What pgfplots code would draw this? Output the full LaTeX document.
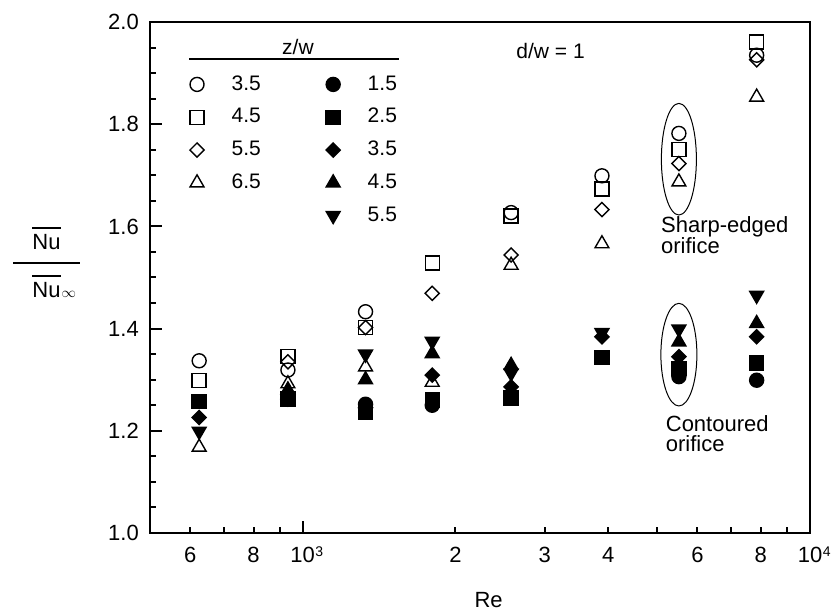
\documentclass[border=0pt]{standalone}
\usepackage{pgfplots}
\pgfplotsset{compat=1.18}
\usepackage{fontspec}
\setmainfont{Liberation Sans}

% marker styles: open symbols = sharp-edged orifice, filled = contoured orifice
\pgfplotsset{
  mk/.style={only marks, black, mark options={solid, line width=1.4pt}},
  o circ/.style={mk, mark=o, mark size=7pt},
  o sq/.style={mk, mark=square, mark size=7pt},
  o dia/.style={mk, mark=square, mark size=5pt, mark options={solid, line width=1.4pt, rotate=45}},
  o tri/.style={mk, mark=triangle, mark size=8pt},
  f circ/.style={mk, mark=*, mark size=7pt},
  f sq/.style={mk, mark=square*, mark size=7pt},
  f dia/.style={mk, mark=square*, mark size=5pt, mark options={solid, line width=1.4pt, rotate=45}},
  f tri/.style={mk, mark=triangle*, mark size=8pt},
  f dtri/.style={mk, mark=triangle*, mark size=8pt, mark options={solid, line width=1.4pt, rotate=180}},
}

% overlined "Nu"
\newcommand{\olNu}{\vbox{\hrule height 1.8pt\kern5.5pt\hbox{Nu}}}
\newcommand{\tickfont}{\fontsize{22}{26}\selectfont}
\newcommand{\annfont}{\fontsize{22}{26}\selectfont}
% power-of-ten tick label with a small raised exponent
\newcommand{\tenpow}[1]{10\rlap{\kern0.5pt\raisebox{6pt}{\fontsize{14}{14}\selectfont #1}}}

\begin{document}
\fontsize{21}{25}\selectfont
\begin{tikzpicture}
\useasboundingbox (-150pt,-78pt) rectangle (681pt,533pt);
\begin{axis}[
  at={(0pt,0pt)}, anchor=south west,
  scale only axis, width=660pt, height=511pt,
  xmode=log, xmin=500, xmax=10000, ymin=1, ymax=2,
  clip=false,
  axis line style={line width=2pt},
  tick style={line width=2pt, black},
  tick align=inside, tick pos=left,
  major tick length=12pt, minor tick length=6pt,
  xtick={1000,10000},
  xticklabels={\tenpow{3},\tenpow{4}},
  minor xtick={600,700,800,900,2000,3000,4000,5000,6000,7000,8000,9000},
  extra x ticks={600,800,2000,3000,4000,6000,8000},
  extra x tick labels={6,8,2,3,4,6,8},
  extra x tick style={major tick length=6pt},
  x tick label style={font=\tickfont, anchor=base, inner sep=0pt, yshift=-29pt},
  ytick={1,1.2,1.4,1.6,1.8,2},
  yticklabels={1.0,1.2,1.4,1.6,1.8,2.0},
  minor y tick num=3,
  y tick label style={font=\tickfont, anchor=base east, inner sep=0pt, xshift=-11pt, yshift=-7.8pt},
  legend columns=2,
  legend cell align=left,
  legend style={draw=none, fill=none, inner sep=0pt, outer sep=0pt,
    at={(axis description cs:0.0583,0.8953)}, anchor=north west,
    column sep=27.5pt, row sep=15pt, nodes={inner sep=0pt}},
]

% ---- sharp-edged orifice (open symbols)
\addplot[o circ, forget plot] coordinates {
  (625,1.337) (935,1.319) (1330,1.433) (2575,1.627)
  (3890,1.699) (5515,1.782) (7850,1.935)};
\addplot[o sq, forget plot] coordinates {
  (625,1.298) (935,1.345) (1330,1.402) (1800,1.528) (2575,1.620)
  (3890,1.673) (5515,1.750) (7850,1.961)};
\addplot[o dia, forget plot] coordinates {
  (935,1.335) (1330,1.402) (1800,1.469) (2575,1.544)
  (3890,1.633) (5515,1.723) (7850,1.926)};
\addplot[o tri, forget plot] coordinates {
  (625,1.168) (935,1.292) (1330,1.325) (1800,1.295) (2575,1.524)
  (3890,1.566) (5515,1.687) (7850,1.853)};

% ---- contoured orifice (filled symbols)
\addplot[f circ, forget plot] coordinates {
  (935,1.267) (1330,1.252) (1800,1.250) (5515,1.306) (7850,1.299)};
\addplot[f sq, forget plot] coordinates {
  (625,1.257) (935,1.262) (1330,1.236) (1800,1.260) (2575,1.264)
  (3890,1.344) (5515,1.322) (7850,1.333)};
\addplot[f dia, forget plot] coordinates {
  (625,1.226) (935,1.262) (1330,1.245) (1800,1.309) (2575,1.286)
  (3890,1.384) (5515,1.345) (7850,1.384)};
\addplot[f tri, forget plot] coordinates {
  (935,1.280) (1330,1.300) (1800,1.351) (2575,1.328)
  (5515,1.374) (7850,1.410)};
\addplot[f dtri, forget plot] coordinates {
  (625,1.199) (1330,1.350) (1800,1.375) (2575,1.313)
  (3890,1.392) (5515,1.399) (7850,1.465)};

% ---- legend (two columns, row by row)
\addlegendimage{o circ}\addlegendentry{\makebox[67pt][l]{3.5}}
\addlegendimage{f circ}\addlegendentry{\makebox[67pt][l]{1.5}}
\addlegendimage{o sq}\addlegendentry{\makebox[67pt][l]{4.5}}
\addlegendimage{f sq}\addlegendentry{\makebox[67pt][l]{2.5}}
\addlegendimage{o dia}\addlegendentry{\makebox[67pt][l]{5.5}}
\addlegendimage{f dia}\addlegendentry{\makebox[67pt][l]{3.5}}
\addlegendimage{o tri}\addlegendentry{\makebox[67pt][l]{6.5}}
\addlegendimage{f tri}\addlegendentry{\makebox[67pt][l]{4.5}}
\addlegendimage{empty legend}\addlegendentry{}
\addlegendimage{f dtri}\addlegendentry{\makebox[67pt][l]{5.5}}

% legend heading
\node[anchor=base, inner sep=0pt] at (axis description cs:0.2242,0.9368) {z/w};
\draw[line width=1.8pt] (axis description cs:0.0591,0.9276) -- (axis description cs:0.3773,0.9276);

% annotations
\node[anchor=base east, inner sep=0pt] at (axis description cs:0.659,0.9276) {d/w = 1};
\draw[line width=1pt] (axis cs:5515,1.7315) ellipse [x radius=17.5pt, y radius=55.8pt];
\draw[line width=1pt] (axis cs:5515,1.349) ellipse [x radius=18pt, y radius=51.3pt];
\node[font=\annfont, anchor=base west, inner sep=0pt] at (axis description cs:0.7742,0.589) {Sharp-edged};
\node[font=\annfont, anchor=base west, inner sep=0pt] at (axis description cs:0.7742,0.5479) {orifice};
\node[font=\annfont, anchor=base west, inner sep=0pt] at (axis description cs:0.7813,0.1996) {Contoured};
\node[font=\annfont, anchor=base west, inner sep=0pt] at (axis description cs:0.7813,0.1591) {orifice};

% axis titles
\node[font=\annfont, anchor=base, inner sep=0pt, yshift=-74pt] at (axis description cs:0.513,0) {Re};
\node[font=\annfont, inner sep=0pt] at (axis description cs:-0.1568,0.5294) {\vbox{%
  \hbox to 67pt{\hss\olNu\hss}%
  \kern13pt\hrule height 2pt\kern11pt
  \hbox to 67pt{\hss\olNu\rlap{\kern1pt$\scriptstyle\infty$}\hss}}};
\end{axis}
\end{tikzpicture}
\end{document}
